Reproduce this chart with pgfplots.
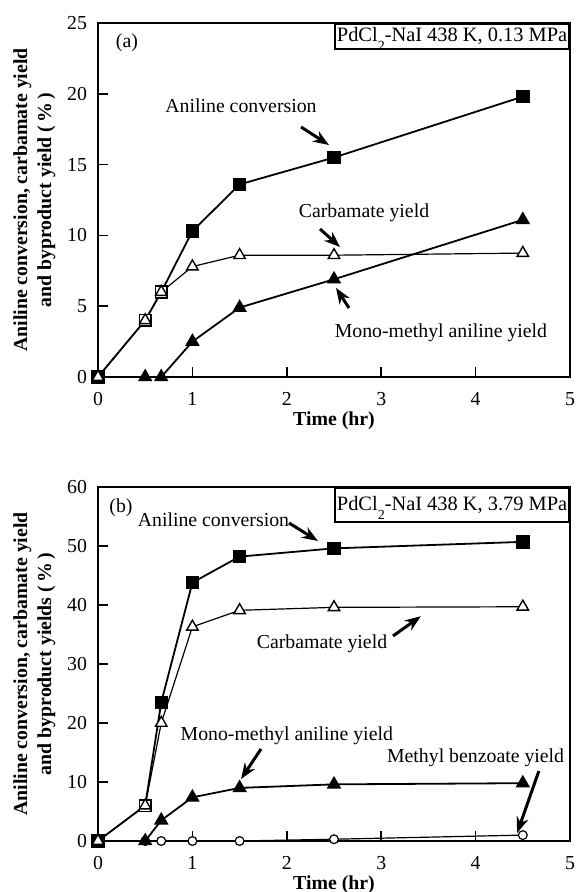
\documentclass[border=0pt]{standalone}
\usepackage{fontspec}
\setmainfont{Liberation Serif}
\usepackage{pgfplots}
\pgfplotsset{compat=1.18}
\usetikzlibrary{arrows.meta}

\newcommand{\fs}{\fontsize{9.9}{11.8}\selectfont}
\newcommand{\sub}[1]{\smash{\raisebox{-4.5pt}{\fontsize{7}{8}\selectfont #1}}}
\tikzset{arr/.style={-{Stealth[length=8pt,width=6pt]},line width=1.5pt}}
\pgfplotsset{
 myaxis/.style={
  scale only axis, width=236pt, height=177pt, anchor=south west,
  xmin=0, xmax=5, xtick={0,1,2,3,4,5},
  tick align=inside, xtick pos=bottom, ytick pos=left,
  major tick length=5pt,
  axis line style={line width=1.1pt},
  tick style={black,line width=0.8pt},
  /pgf/number format/assume math mode=true,
  tick label style={font=\fs},
  xticklabel style={yshift=-4pt},
  yticklabel style={xshift=-2pt},
  label style={font=\fontsize{9.9}{12}\selectfont\bfseries},
  xlabel style={at={(axis description cs:0.5,0)},anchor=center,yshift=-22pt},
  ylabel style={at={(axis description cs:-0.135,0.5)},anchor=center,align=center},
  clip=false,
  xlabel={Time (hr)},
 },
 conv/.style={black,line width=0.9pt,mark=square*,mark size=2.9pt,mark options={solid,fill=black}},
 convopen/.style={black,only marks,mark=square*,mark size=2.9pt,mark options={solid,fill=white,line width=0.8pt}},
 carb/.style={black,line width=0.6pt,mark=triangle*,mark size=3.3pt,mark options={solid,fill=white,line width=0.7pt}},
 mono/.style={black,line width=0.9pt,mark=triangle*,mark size=3.3pt,mark options={solid,fill=black}},
 benz/.style={black,line width=0.6pt,mark=*,mark size=2.2pt,mark options={solid,fill=white,line width=0.6pt}},
}

\begin{document}
\begin{tikzpicture}
\useasboundingbox (0,0) rectangle (289pt,446pt);

% ---------------- (a) ----------------
\begin{axis}[myaxis, at={(49pt,257.5pt)},
  ymin=0, ymax=25, ytick={0,5,10,15,20,25},
  ylabel={Aniline conversion, carbamate yield\\and byproduct yield (\,\%\,)}]
\addplot[mono] coordinates {(0,0) (0.5,0) (0.67,0) (1,2.5) (1.5,4.9) (2.5,6.9) (4.5,11.1)};
\addplot[conv] coordinates {(0,0) (0.5,4) (0.67,6) (1,10.3) (1.5,13.6) (2.5,15.5) (4.5,19.8)};
\addplot[convopen] coordinates {(0.5,4) (0.67,6)};
\addplot[carb] coordinates {(0,0) (0.5,4) (0.67,6) (1,7.8) (1.5,8.6) (2.5,8.6) (4.5,8.75)};
\node[font=\fs] at (axis cs:0.307,23.6) {(a)};
\node[draw,line width=0.8pt,anchor=north east,minimum width=117pt,minimum height=12.5pt,inner sep=1pt,font=\fontsize{10.2}{12}\selectfont] at (rel axis cs:1,1) {PdCl\sub{2}-NaI 438 K, 0.13 MPa};
\node[font=\fs] at (axis cs:1.515,19.14) {Aniline conversion};
\draw[arr] (axis cs:2.15,17.66) -- (axis cs:2.447,16.38);
\node[font=\fs] at (axis cs:2.818,11.58) {Carbamate yield};
\draw[arr] (axis cs:2.352,10.45) -- (axis cs:2.564,9.18);
\node[font=\fs] at (axis cs:3.633,3.11) {Mono-methyl aniline yield};
\draw[arr] (axis cs:2.659,4.87) -- (axis cs:2.521,6.29);
\end{axis}

% ---------------- (b) ----------------
\begin{axis}[myaxis, at={(49pt,25.5pt)},
  ymin=0, ymax=60, ytick={0,10,20,30,40,50,60},
  ylabel={Aniline conversion, carbamate yield\\and byproduct yields (\,\%\,)}]
\addplot[benz] coordinates {(0,0) (0.5,0) (0.67,0) (1,0) (1.5,0) (2.5,0.3) (4.5,1.0)};
\addplot[mono] coordinates {(0,0) (0.5,0) (0.67,3.5) (1,7.4) (1.5,9.0) (2.5,9.6) (4.5,9.8)};
\addplot[conv] coordinates {(0,0) (0.5,6) (0.67,23.5) (1,43.8) (1.5,48.2) (2.5,49.6) (4.5,50.7)};
\addplot[convopen] coordinates {(0.5,6)};
\addplot[carb] coordinates {(0,0) (0.5,6) (0.67,20) (1,36.3) (1.5,39.1) (2.5,39.6) (4.5,39.7)};
\node[font=\fs] at (axis cs:0.244,56.4) {(b)};
\node[draw,line width=0.8pt,anchor=north east,minimum width=117pt,minimum height=17pt,inner sep=1pt,font=\fontsize{10.2}{12}\selectfont] at (rel axis cs:1,1) {PdCl\sub{2}-NaI 438 K, 3.79 MPa};
\node[font=\fs] at (axis cs:1.223,54.4) {Aniline conversion};
\draw[arr] (axis cs:2.023,53.9) -- (axis cs:2.33,50.85);
\node[font=\fs] at (axis cs:2.373,33.4) {Carbamate yield};
\draw[arr] (axis cs:3.125,34.75) -- (axis cs:3.42,38.1);
\node[font=\fs] at (axis cs:2.0,17.8) {Mono-methyl aniline yield};
\draw[arr] (axis cs:1.727,15.6) -- (axis cs:1.515,10.5);
\node[font=\fs] at (axis cs:4.0,14.07) {Methyl benzoate yield};
\draw[arr] (axis cs:4.67,11.86) -- (axis cs:4.44,1.36);
\end{axis}
\end{tikzpicture}
\end{document}
